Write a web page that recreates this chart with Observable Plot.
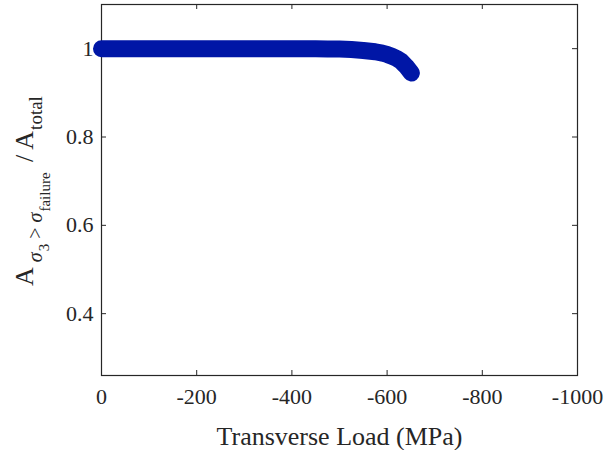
<!DOCTYPE html>
<html><head><meta charset="utf-8">
<script src="https://cdn.jsdelivr.net/npm/d3@7"></script>
<script src="https://cdn.jsdelivr.net/npm/@observablehq/plot@0.6"></script>
<style>body{margin:0;background:#fff} svg text{font-family:"Liberation Serif","Times New Roman",serif !important;}</style>
</head><body><div id="chart"></div>
<script>
// Data
const load  = [0, -50, -100, -150, -200, -250, -300, -350, -400, -450, -475, -500, -525, -550, -575, -590, -600, -610, -620, -630, -640, -651];
const ratio = [1, 1, 1, 1, 1, 1, 1, 1, 1, 1, 0.9995, 0.999, 0.998, 0.996, 0.993, 0.990, 0.987, 0.983, 0.978, 0.971, 0.960, 0.945];

const xTicks = [0, -200, -400, -600, -800, -1000];
const xTickLabels = ["0", "-200", "-400", "-600", "-800", "-1000"];
const yTicks = [0.4, 0.6, 0.8, 1];
const yTickLabels = ["0.4", "0.6", "0.8", "1"];
const xLabel = "Transverse Load (MPa)";

const data = load.map((x, i) => ({x, y: ratio[i]}));
const font = "'Liberation Serif', 'Times New Roman', serif";
const axisColor = "#262626";

const chart = Plot.plot({
  width: 609,
  height: 450,
  marginLeft: 101,
  marginRight: 32,
  marginTop: 4,
  marginBottom: 75,
  style: `font-family: ${font}; font-size: 22px; color: ${axisColor}; background: #fff;`,
  x: {domain: [0, -1000]},
  y: {domain: [0.26, 1.1]},
  marks: [
    Plot.axisX(xTicks, {tickSize: 0, tickPadding: 13, tickFormat: d => xTickLabels[xTicks.indexOf(d)], label: null, fill: axisColor, fontSize: 22}),
    Plot.axisY(yTicks, {tickSize: 0, tickPadding: 8, tickFormat: d => yTickLabels[yTicks.indexOf(d)], label: null, fill: axisColor, fontSize: 22}),
    Plot.tickX(xTicks, {x: d => d, insetTop: 366, stroke: axisColor}),
    Plot.tickX(xTicks, {x: d => d, insetBottom: 366, stroke: axisColor}),
    Plot.tickY(yTicks, {y: d => d, insetLeft: 471, stroke: axisColor}),
    Plot.tickY(yTicks, {y: d => d, insetRight: 471, stroke: axisColor}),
    Plot.frame({stroke: axisColor, strokeWidth: 1.2}),
    Plot.text([xLabel], {frameAnchor: "bottom", dy: 61, lineAnchor: "middle", fontSize: 26, fill: axisColor}),
    Plot.line(data, {x: "x", y: "y", stroke: "#0016a6", strokeWidth: 17, strokeLinecap: "round", strokeLinejoin: "round", clip: false})
  ]
});

// y-axis label with subscripts
const svg = d3.select(chart);
const t = svg.append("text")
  .attr("transform", "translate(33,191) rotate(-90)")
  .attr("text-anchor", "middle")
  .attr("font-size", 26)
  .attr("fill", axisColor);
t.append("tspan").text("A");
t.append("tspan").attr("font-size", 20).attr("dx", 5).attr("dy", 9).attr("font-style", "italic").text("σ");
t.append("tspan").attr("font-size", 15).attr("dx", 1).attr("dy", 7).text("3");
t.append("tspan").attr("font-size", 20).attr("dy", -7).text(" > ");
t.append("tspan").attr("font-size", 20).attr("font-style", "italic").text("σ");
t.append("tspan").attr("font-size", 15).attr("dx", 1).attr("dy", 8).text("failure");
t.append("tspan").attr("font-size", 26).attr("dx", 4).attr("dy", -17).text(" / A");
t.append("tspan").attr("font-size", 19).attr("dx", 1).attr("dy", 9).text("total");

document.getElementById("chart").appendChild(chart);
</script>
</body></html>
